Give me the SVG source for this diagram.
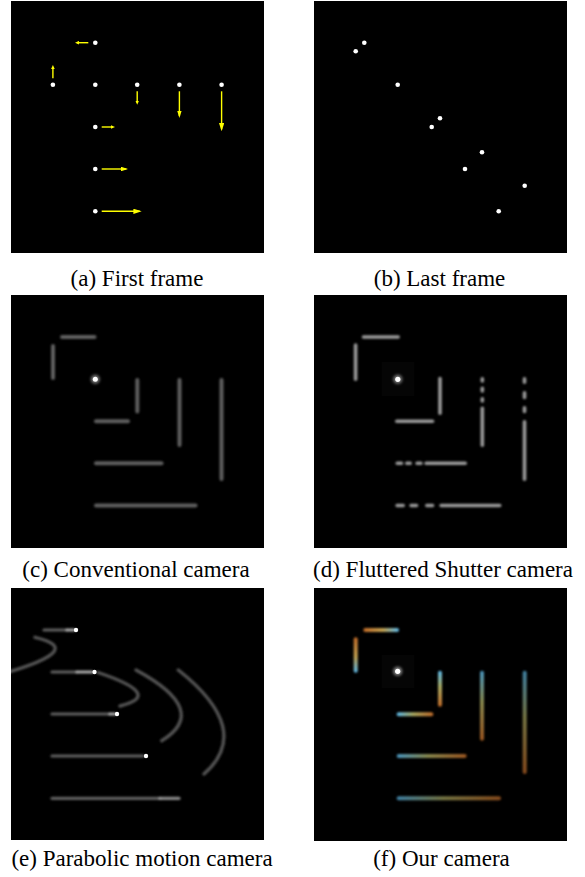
<svg xmlns="http://www.w3.org/2000/svg" width="585" height="877" viewBox="0 0 585 877">
<style>
.panel{fill:#000}
.cap{font-family:'Liberation Serif','DejaVu Serif',serif;font-size:23px;fill:#000;text-anchor:middle}
.dot{fill:#fff}
.arr{stroke:#ffff00;stroke-width:1.4;fill:none}
.bar{stroke:#5e5e5e;stroke-width:4;stroke-linecap:round;fill:none}
.bead{stroke:#9a9a9a;stroke-width:3.6;stroke-linecap:round;fill:none}
.beadE{stroke:#5e5e5e;stroke-width:3.2;stroke-linecap:round;fill:none}
.brightE{stroke:#aaaaaa;stroke-width:3.2;stroke-linecap:round;fill:none}
.arc{stroke:#535353;stroke-width:3.4;stroke-linecap:round;fill:none}
.halo{fill:#050505}
</style>
<defs>
<filter id="soft" filterUnits="userSpaceOnUse" x="0" y="0" width="585" height="877"><feGaussianBlur stdDeviation="0.8"/></filter>
<filter id="soft2" filterUnits="userSpaceOnUse" x="0" y="0" width="585" height="877"><feGaussianBlur stdDeviation="0.4"/></filter>
<filter id="glow" filterUnits="userSpaceOnUse" x="0" y="0" width="585" height="877"><feGaussianBlur stdDeviation="1.6"/></filter>
<marker id="hS" markerUnits="userSpaceOnUse" viewBox="0 0 4 3.6" markerWidth="4" markerHeight="3.6" refX="2" refY="1.8" orient="auto"><path d="M0,0 L4,1.8 L0,3.6 z" fill="#ffff00"/></marker>
<marker id="hM" markerUnits="userSpaceOnUse" viewBox="0 0 7.5 4.6" markerWidth="7.5" markerHeight="4.6" refX="5.5" refY="2.3" orient="auto"><path d="M0,0 L7.5,2.3 L0,4.6 z" fill="#ffff00"/></marker>
<marker id="hL" markerUnits="userSpaceOnUse" viewBox="0 0 8.3 5.2" markerWidth="8.3" markerHeight="5.2" refX="6.3" refY="2.6" orient="auto"><path d="M0,0 L8.3,2.6 L0,5.2 z" fill="#ffff00"/></marker>
<linearGradient id="gR" x1="0" y1="0" x2="1" y2="0"><stop offset="0" stop-color="#5ab8ea"/><stop offset="0.45" stop-color="#a8a860"/><stop offset="1" stop-color="#c06a28"/></linearGradient>
<linearGradient id="gL" x1="1" y1="0" x2="0" y2="0"><stop offset="0" stop-color="#5ab8ea"/><stop offset="0.45" stop-color="#c0a050"/><stop offset="1" stop-color="#c06a28"/></linearGradient>
<linearGradient id="gD" x1="0" y1="0" x2="0" y2="1"><stop offset="0" stop-color="#5ab8ea"/><stop offset="0.45" stop-color="#a8a860"/><stop offset="1" stop-color="#c06a28"/></linearGradient>
<linearGradient id="gU" x1="0" y1="1" x2="0" y2="0"><stop offset="0" stop-color="#5ab8ea"/><stop offset="0.45" stop-color="#c0a050"/><stop offset="1" stop-color="#c06a28"/></linearGradient>
<clipPath id="clipE"><rect x="11" y="588" width="253" height="252"/></clipPath>
</defs>
<rect width="585" height="877" fill="#fff"/>

<g id="panel-a">
<rect class="panel" x="11" y="1" width="253" height="252"/>
<g filter="url(#soft2)">
<circle class="dot" cx="95.3" cy="42.7" r="2.3"/>
<circle class="dot" cx="52.9" cy="84.8" r="2.3"/>
<circle class="dot" cx="95.3" cy="84.8" r="2.3"/>
<circle class="dot" cx="137.2" cy="84.8" r="2.3"/>
<circle class="dot" cx="179.4" cy="84.8" r="2.3"/>
<circle class="dot" cx="221.6" cy="84.8" r="2.3"/>
<circle class="dot" cx="95.3" cy="127" r="2.3"/>
<circle class="dot" cx="95.3" cy="169" r="2.3"/>
<circle class="dot" cx="95.3" cy="211.3" r="2.3"/>
</g>
<line class="arr" x1="88.3" y1="42.7" x2="77" y2="42.7" marker-end="url(#hS)"/>
<line class="arr" x1="52.9" y1="78.3" x2="52.9" y2="67" marker-end="url(#hS)"/>
<line class="arr" x1="137.2" y1="91.3" x2="137.2" y2="102.7" marker-end="url(#hS)"/>
<line class="arr" x1="179.4" y1="91.3" x2="179.4" y2="116" marker-end="url(#hM)"/>
<line class="arr" x1="221.6" y1="91.3" x2="221.6" y2="129.3" marker-end="url(#hL)"/>
<line class="arr" x1="101.7" y1="127" x2="113" y2="127" marker-end="url(#hS)"/>
<line class="arr" x1="101.7" y1="169" x2="126.3" y2="169" marker-end="url(#hM)"/>
<line class="arr" x1="101.7" y1="211.3" x2="139.7" y2="211.3" marker-end="url(#hL)"/>
<text class="cap" font-family="Liberation Serif, DejaVu Serif, serif" x="137" y="285.5">(a) First frame</text>
</g>

<g id="panel-b">
<rect class="panel" x="314" y="1" width="253" height="252"/>
<g filter="url(#soft2)">
<circle class="dot" cx="364.3" cy="42.7" r="2.3"/>
<circle class="dot" cx="355.7" cy="51.3" r="2.3"/>
<circle class="dot" cx="397.7" cy="84.7" r="2.3"/>
<circle class="dot" cx="440" cy="118.3" r="2.3"/>
<circle class="dot" cx="431.7" cy="127" r="2.3"/>
<circle class="dot" cx="482" cy="152.3" r="2.3"/>
<circle class="dot" cx="465" cy="169" r="2.3"/>
<circle class="dot" cx="524.7" cy="185.7" r="2.3"/>
<circle class="dot" cx="498.7" cy="211.3" r="2.3"/>
</g>
<text class="cap" font-family="Liberation Serif, DejaVu Serif, serif" x="439.5" y="285.5">(b) Last frame</text>
</g>

<g id="panel-c">
<rect class="panel" x="11" y="295" width="253" height="253"/>
<g filter="url(#soft)">
<line class="bar" x1="62" y1="337" x2="94.5" y2="337"/>
<line class="bar" x1="53" y1="346" x2="53" y2="378"/>
<line class="bar" x1="137.3" y1="380" x2="137.3" y2="411.5"/>
<line class="bar" x1="179.5" y1="380" x2="179.5" y2="445"/>
<line class="bar" x1="221.5" y1="380" x2="221.5" y2="479"/>
<line class="bar" x1="96" y1="421.3" x2="128" y2="421.3"/>
<line class="bar" x1="96" y1="463.3" x2="161.5" y2="463.3"/>
<line class="bar" x1="96" y1="505.5" x2="195.5" y2="505.5"/>
</g>
<circle cx="95.3" cy="379.3" r="4.5" fill="#fff" opacity="0.45" filter="url(#glow)"/>
<circle class="dot" cx="95.3" cy="379.3" r="2.5" filter="url(#soft2)"/>
<text class="cap" font-family="Liberation Serif, DejaVu Serif, serif" x="136" y="576.5">(c) Conventional camera</text>
</g>

<g id="panel-d">
<rect class="panel" x="314" y="295" width="253" height="253"/>
<rect class="halo" x="381.7" y="362" width="32.5" height="34"/>
<g filter="url(#soft)">
<line class="bead" x1="363.5" y1="337" x2="398.2" y2="337"/>
<line class="bead" x1="355.6" y1="345.1" x2="355.6" y2="379.2"/>
<line class="bead" x1="440" y1="378.5" x2="440" y2="413.2"/>
<line class="bead" x1="482.3" y1="378.8" x2="482.3" y2="380.9"/>
<line class="bead" x1="482.3" y1="388.3" x2="482.3" y2="390.9"/>
<line class="bead" x1="482.3" y1="398.8" x2="482.3" y2="400.9"/>
<line class="bead" x1="482.3" y1="408.3" x2="482.3" y2="445.2"/>
<line class="bead" x1="524.5" y1="378.8" x2="524.5" y2="382.2"/>
<line class="bead" x1="524.5" y1="392.8" x2="524.5" y2="397.5"/>
<line class="bead" x1="524.5" y1="407.8" x2="524.5" y2="411.5"/>
<line class="bead" x1="524.5" y1="421.8" x2="524.5" y2="479.2"/>
<line class="bead" x1="396.8" y1="421.2" x2="432.5" y2="421.2"/>
<line class="bead" x1="397.3" y1="463.3" x2="401.5" y2="463.3"/>
<line class="bead" x1="406.8" y1="463.3" x2="410.2" y2="463.3"/>
<line class="bead" x1="417.1" y1="463.3" x2="420.9" y2="463.3"/>
<line class="bead" x1="426.1" y1="463.3" x2="465.2" y2="463.3"/>
<line class="bead" x1="397.1" y1="505.5" x2="403.2" y2="505.5"/>
<line class="bead" x1="411.1" y1="505.5" x2="416.5" y2="505.5"/>
<line class="bead" x1="426.8" y1="505.5" x2="432.5" y2="505.5"/>
<line class="bead" x1="441.1" y1="505.5" x2="499.7" y2="505.5"/>
</g>
<circle cx="397.8" cy="379.3" r="4.5" fill="#fff" opacity="0.45" filter="url(#glow)"/>
<circle class="dot" cx="397.8" cy="379.3" r="2.6" filter="url(#soft2)"/>
<text class="cap" font-family="Liberation Serif, DejaVu Serif, serif" x="443" y="576.5">(d) Fluttered Shutter camera</text>
</g>

<g id="panel-e">
<rect class="panel" x="11" y="588" width="253" height="252"/>
<g clip-path="url(#clipE)">
<g filter="url(#soft)">
<path class="arc" d="M35,637.3 Q90,650 -5,676"/>
<path class="arc" d="M98,672.5 Q165,695 120,706"/>
<path class="arc" d="M136,670 Q211,710.6 161.7,740.7"/>
<path class="arc" d="M178.3,670 Q254,730 204,774"/>
<line class="beadE" x1="44" y1="630" x2="67" y2="630"/>
<line class="brightE" x1="67" y1="630" x2="74" y2="630"/>
<line class="beadE" x1="52" y1="672" x2="77" y2="672"/>
<line class="brightE" x1="77" y1="672" x2="92" y2="672"/>
<line class="beadE" x1="52" y1="714" x2="110" y2="714"/>
<line class="brightE" x1="110" y1="714" x2="115" y2="714"/>
<line class="beadE" x1="52" y1="756" x2="143" y2="756"/>
<line class="beadE" x1="52" y1="798.3" x2="160" y2="798.3"/>
<line class="brightE" x1="160" y1="798.3" x2="179" y2="798.3" opacity="0.8"/>
</g>
<g filter="url(#soft2)">
<circle class="dot" cx="76" cy="630" r="2.2"/>
<circle class="dot" cx="94.5" cy="672" r="2.2"/>
<circle class="dot" cx="117" cy="714" r="2.2"/>
<circle class="dot" cx="146" cy="756" r="2.2"/>
</g>
</g>
<text class="cap" font-family="Liberation Serif, DejaVu Serif, serif" x="142" y="866">(e) Parabolic motion camera</text>
</g>

<g id="panel-f">
<rect class="panel" x="314" y="588" width="253" height="253"/>
<rect class="halo" x="381.7" y="655" width="32.5" height="33"/>
<g filter="url(#soft)">
<rect x="363.3" y="628" width="35.7" height="4" rx="2" fill="url(#gL)"/>
<rect x="353.7" y="637.3" width="4" height="35.4" rx="2" fill="url(#gU)"/>
<rect x="438" y="670.7" width="4" height="36" rx="2" fill="url(#gD)"/>
<rect x="480" y="670.7" width="4" height="70" rx="2" fill="url(#gD)" opacity="0.8"/>
<rect x="522.7" y="670.7" width="4" height="103.3" rx="2" fill="url(#gD)" opacity="0.7"/>
<rect x="396.7" y="712.3" width="36.6" height="4" rx="2" fill="url(#gR)"/>
<rect x="396.7" y="754" width="70" height="4" rx="2" fill="url(#gR)" opacity="0.8"/>
<rect x="396.7" y="796.3" width="104.3" height="4" rx="2" fill="url(#gR)" opacity="0.7"/>
</g>
<circle cx="397.7" cy="671.3" r="4.5" fill="#fff" opacity="0.5" filter="url(#glow)"/>
<circle class="dot" cx="397.7" cy="671.3" r="2.6" filter="url(#soft2)"/>
<text class="cap" font-family="Liberation Serif, DejaVu Serif, serif" x="441.5" y="866">(f) Our camera</text>
</g>
</svg>
